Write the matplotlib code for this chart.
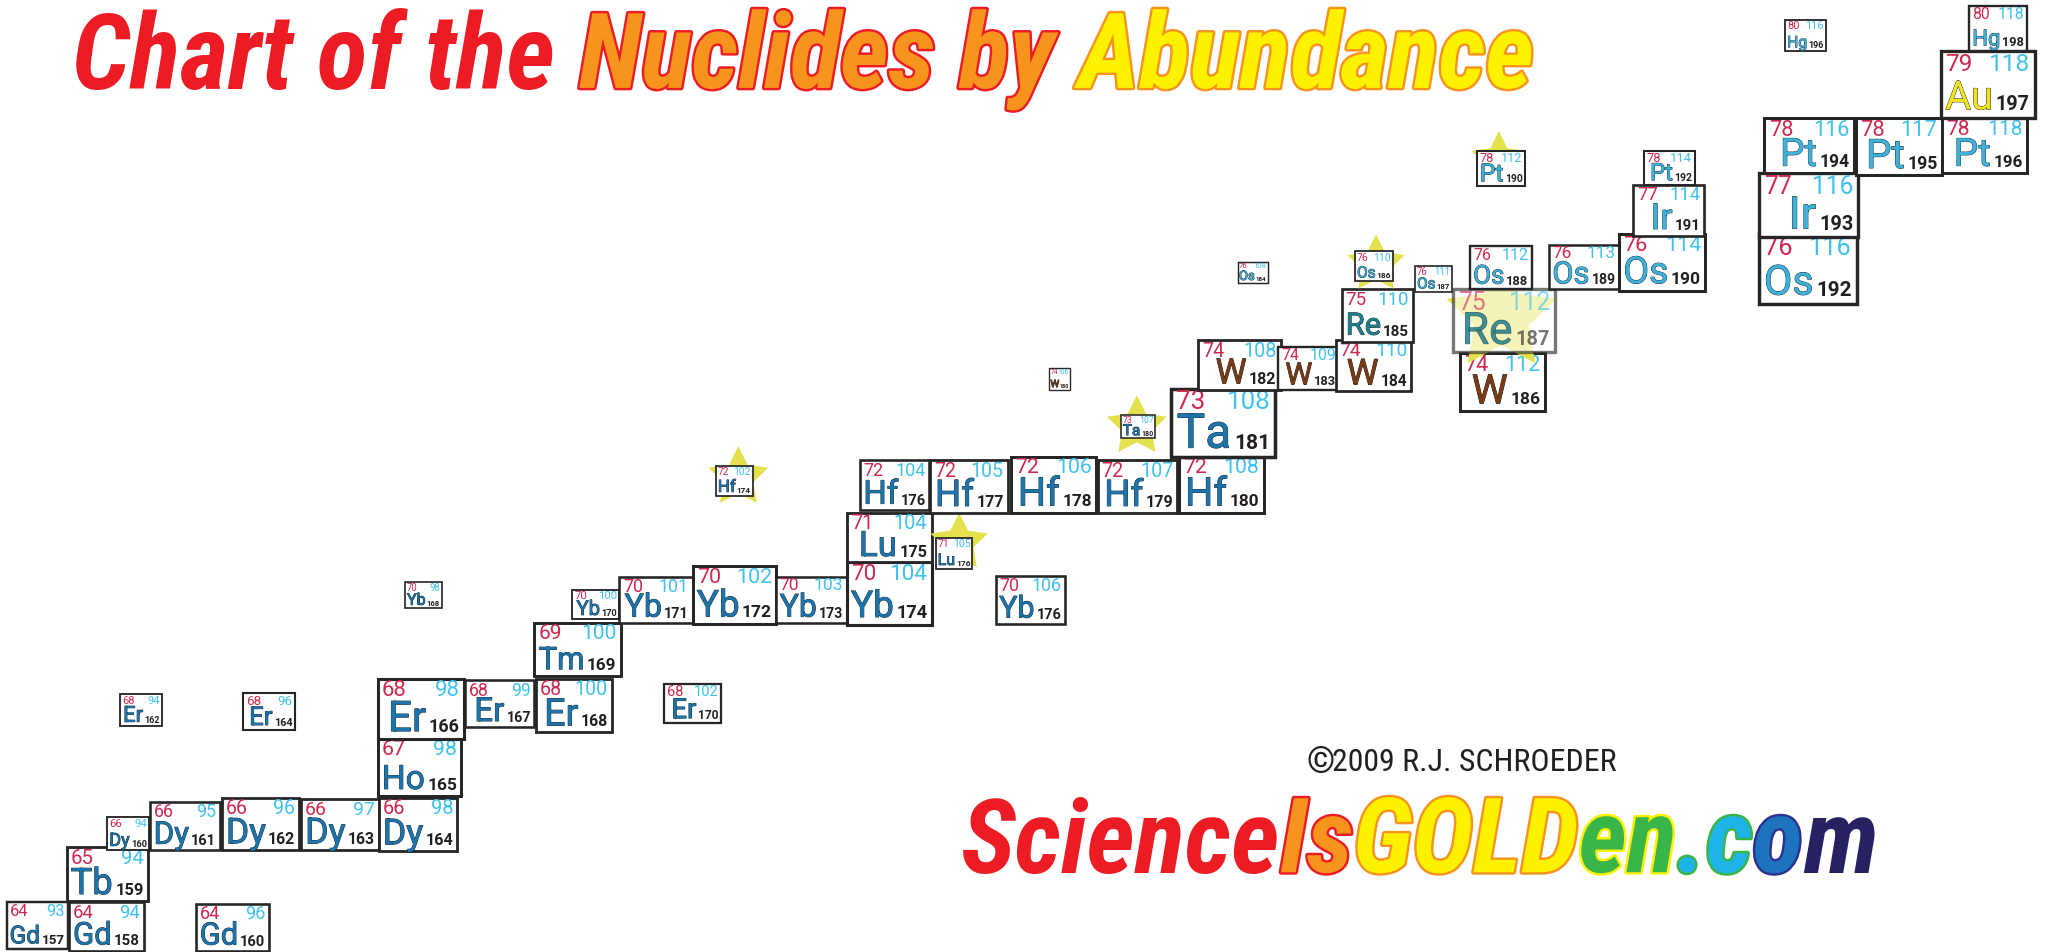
import numpy as np
import matplotlib
matplotlib.use('Agg')
import matplotlib.pyplot as plt
from matplotlib import font_manager
from matplotlib.patches import Rectangle, Polygon
import matplotlib.patheffects as pe

# stable nuclides
symbols = ['Gd', 'Gd', 'Gd', 'Tb', 'Dy', 'Dy', 'Dy', 'Dy', 'Dy', 'Ho',
           'Er', 'Er', 'Er', 'Er', 'Er', 'Er', 'Tm', 'Yb', 'Yb', 'Yb',
           'Yb', 'Yb', 'Yb', 'Yb', 'Lu', 'Lu', 'Hf', 'Hf', 'Hf', 'Hf',
           'Hf', 'Hf', 'Ta', 'Ta', 'W', 'W', 'W', 'W', 'W', 'Re',
           'Re', 'Os', 'Os', 'Os', 'Os', 'Os', 'Os', 'Os', 'Ir', 'Ir',
           'Pt', 'Pt', 'Pt', 'Pt', 'Pt', 'Au', 'Hg', 'Hg']
protons = [64, 64, 64, 65, 66, 66, 66, 66, 66, 67,
           68, 68, 68, 68, 68, 68, 69, 70, 70, 70,
           70, 70, 70, 70, 71, 71, 72, 72, 72, 72,
           72, 72, 73, 73, 74, 74, 74, 74, 74, 75,
           75, 76, 76, 76, 76, 76, 76, 76, 77, 77,
           78, 78, 78, 78, 78, 79, 80, 80]
neutrons = [93, 94, 96, 94, 94, 95, 96, 97, 98, 98,
            94, 96, 98, 99, 100, 102, 100, 98, 100, 101,
            102, 103, 104, 106, 104, 105, 102, 104, 105, 106,
            107, 108, 107, 108, 106, 108, 109, 110, 112, 110,
            112, 108, 110, 111, 112, 113, 114, 116, 114, 116,
            112, 114, 116, 117, 118, 118, 116, 118]
mass = [157, 158, 160, 159, 160, 161, 162, 163, 164, 165,
        162, 164, 166, 167, 168, 170, 169, 168, 170, 171,
        172, 173, 174, 176, 175, 176, 174, 176, 177, 178,
        179, 180, 180, 181, 180, 182, 183, 184, 186, 185,
        187, 184, 186, 187, 188, 189, 190, 192, 191, 193,
        190, 192, 194, 195, 196, 197, 196, 198]
# box corners as they sit in the picture (y grows downwards)
box_x0 = [5, 53, 150, 51, 82, 115, 170, 230, 290, 289,
          92, 186, 289, 356, 410, 508, 409, 310, 438, 474,
          530, 594, 648, 762, 648, 716, 548, 658, 712, 774,
          840, 902, 858, 896, 803, 917, 978, 1022, 1117, 1027,
          1112, 947, 1037, 1083, 1125, 1185, 1239, 1346, 1250, 1346,
          1130, 1258, 1350, 1420, 1486, 1485, 1366, 1507]
box_y0 = [691, 691, 692, 649, 626, 614, 611, 612, 611, 566,
          532, 531, 520, 521, 520, 524, 477, 446, 452, 442,
          434, 442, 431, 441, 393, 412, 357, 353, 353, 350,
          353, 350, 318, 298, 282, 261, 266, 261, 271, 222,
          222, 201, 193, 204, 189, 188, 180, 180, 142, 133,
          116, 116, 91, 91, 91, 40, 16, 5]
box_x1 = [52, 110, 206, 113, 114, 168, 229, 290, 350, 353,
          124, 226, 355, 409, 468, 552, 475, 338, 474, 530,
          594, 648, 713, 815, 713, 744, 576, 711, 771, 839,
          901, 967, 884, 976, 819, 980, 1025, 1080, 1182, 1081,
          1190, 970, 1066, 1111, 1172, 1239, 1305, 1421, 1304, 1422,
          1167, 1297, 1419, 1486, 1551, 1557, 1397, 1551]
box_y1 = [727, 728, 728, 690, 651, 651, 651, 651, 652, 610,
          556, 559, 566, 557, 561, 554, 518, 466, 474, 477,
          478, 477, 479, 478, 431, 436, 380, 391, 393, 393,
          393, 393, 336, 350, 299, 299, 299, 300, 315, 262,
          270, 217, 216, 224, 222, 222, 223, 233, 181, 182,
          143, 142, 133, 135, 133, 91, 40, 40]

# long-lived radioactive ones get a star
star_label = ['Hf174', 'Lu176', 'Ta180', 'Os186', 'Pt190', 'Re187']
star_x = [565, 734, 870, 1053, 1147, 1149]
star_y = [366, 416, 327, 203, 123, 243]
star_r = [24, 23, 24, 23, 22, 44]
faded = ['Re187']

title_parts = ['Chart of the ', 'Nuclides by ', 'Abundance']
logo_parts = ['Science', 'Is', 'GOLD', 'en', '.c', 'o', 'm']
credit = '2009 R.J. SCHROEDER'

sym_color = {'W': '#7a3b14', 'Au': '#f4e41c', 'Re': '#1f7f8e',
             'Os': '#3db1da', 'Ir': '#3db1da', 'Pt': '#3db1da', 'Hg': '#3db1da'}
default_sym = '#1c74ab'
z_color = '#d0284f'
n_color = '#3fc2ee'

available = {f.name for f in font_manager.fontManager.ttflist}
box_font = [f for f in ['Roboto', 'Open Sans', 'DejaVu Sans'] if f in available]
cond_font = None
for f in ['Liberation Sans Narrow', 'Roboto Condensed', 'Open Sans Condensed']:
    if f in available:
        cond_font = f
        break
if cond_font is None:
    cond_font = 'DejaVu Sans'

W, H = 1568, 729
PT = 0.941  # points per picture unit
fig = plt.figure(figsize=(20.49, 9.53), dpi=100)
ax = fig.add_axes([0, 0, 1, 1])
ax.set_xlim(0, W)
ax.set_ylim(H, 0)
ax.axis('off')
renderer = fig.canvas.get_renderer()
inv = ax.transData.inverted()


def left_of(t):
    bb = t.get_window_extent(renderer)
    return inv.transform((bb.x0, bb.y0))[0]


def right_of(t):
    bb = t.get_window_extent(renderer)
    return inv.transform((bb.x1, bb.y0))[0]


def star_points(cx, cy, r, inner=0.5):
    pts = []
    for k in range(10):
        a = np.pi / 2 + k * np.pi / 5
        rr = r if k % 2 == 0 else r * inner
        pts.append((cx + rr * np.cos(a), cy - rr * np.sin(a)))
    return pts


for i, sym in enumerate(symbols):
    label = f'{sym}{mass[i]}'
    x0, y0, x1, y1 = box_x0[i], box_y0[i], box_x1[i], box_y1[i]
    w, h = x1 - x0, y1 - y0
    s = np.sqrt(w * h)
    base = 10 + 3 * i
    alpha = 0.62 if label in faded else 1.0

    if label in star_label:
        k = star_label.index(label)
        ax.add_patch(Polygon(star_points(star_x[k], star_y[k], star_r[k]),
                             closed=True, facecolor='#e4e24c', edgecolor='none',
                             zorder=base - 1))

    ax.add_patch(Rectangle((x0, y0), w, h, facecolor='white', edgecolor='#262626',
                           lw=0.45 + 0.032 * s, alpha=alpha, zorder=base))

    zn_size = 0.29 * s
    ax.text(x0 + 0.05 * w, y0 + 0.01 * h, str(protons[i]), fontsize=zn_size,
            family=box_font, color=z_color, ha='left', va='top', alpha=alpha,
            zorder=base + 1)
    ax.text(x1 - 0.05 * w, y0 + 0.01 * h, str(neutrons[i]), fontsize=zn_size,
            family=box_font, color=n_color, ha='right', va='top', alpha=alpha,
            zorder=base + 1)
    baseline = y1 - 0.13 * h
    tm = ax.text(x1 - 0.05 * w, baseline, str(mass[i]), fontsize=0.235 * s,
                 family=box_font, weight='bold', color='#231f20', ha='right',
                 va='baseline', alpha=alpha, zorder=base + 1)
    right = left_of(tm) - 0.03 * w
    size = 0.5 * h / 0.711 * PT
    ts = ax.text(right, baseline, sym, fontsize=size,
                 family=box_font, color=sym_color.get(sym, default_sym),
                 ha='right', va='baseline', alpha=alpha, zorder=base + 1)
    room = right - (x0 + 0.05 * w)
    used = right - left_of(ts)
    if used > room:
        ts.set_fontsize(size * room / used)
    ts.set_path_effects([pe.Stroke(linewidth=0.6, foreground='#15232b', alpha=alpha),
                         pe.Normal()])


def draw_run(parts, fills, edges, x, y, size, target=None, **kw):
    texts = []
    cur = x
    for p, c, e in zip(parts, fills, edges):
        t = ax.text(cur, y, p, color=c, fontsize=size, ha='left', va='baseline',
                    zorder=500, **kw)
        if e:
            t.set_path_effects([pe.Stroke(linewidth=3.5, foreground=e), pe.Normal()])
        cur = right_of(t)
        texts.append(t)
    if target is not None:
        width = cur - x
        for t in texts:
            t.remove()
        return draw_run(parts, fills, edges, x, y, size * target / width, None, **kw)
    return texts


cond_kw = dict(family=cond_font, weight='bold', style='italic')
if cond_font == 'DejaVu Sans':
    cond_kw['stretch'] = 'condensed'

draw_run(title_parts, ['#ed1c24', '#f7941d', '#fff200'],
         [None, '#ed1c24', '#f7941d'], 55, 68, 70, target=1120, **cond_kw)

draw_run(logo_parts, ['#ed1c24', '#f7941d', '#fff200', '#39b54a', '#1fb4e8',
                      '#1c75bc', '#262262'],
         [None, '#ed1c24', '#f7941d', '#fff200', '#39b54a', '#2e3192', None],
         735, 668, 70, target=702, **cond_kw)

reg_kw = dict(family=cond_font)
if cond_font == 'DejaVu Sans':
    reg_kw['stretch'] = 'condensed'
tc = ax.text(1000, 591, '\u00a9', fontsize=26, weight='bold', color='#231f20',
             ha='left', va='baseline', zorder=500, **reg_kw)
draw_run([credit], ['#231f20'], [None], right_of(tc) - 2, 590, 20, target=217,
         **reg_kw)

fig.savefig('out.png', dpi=100, facecolor='white')
